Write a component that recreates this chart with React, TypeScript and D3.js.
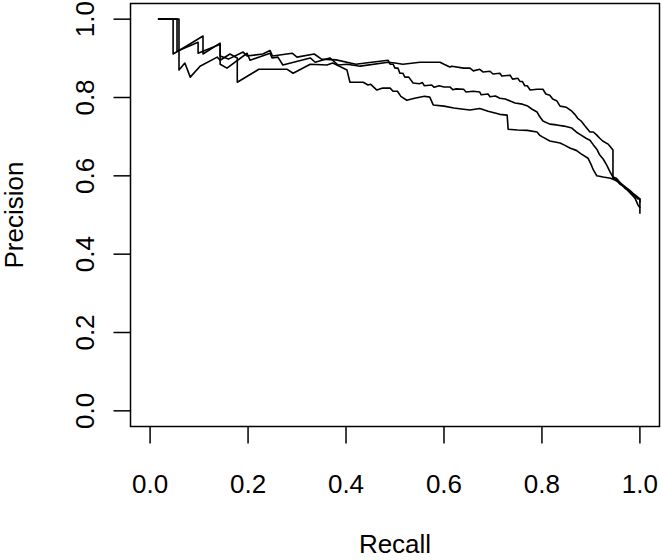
import * as d3 from 'd3';

// three precision/recall curves, [recall, precision]
const curveA: [number, number][] = [
  [0.016, 1.0], [0.047, 1.0], [0.047, 0.911], [0.078, 0.934], [0.108, 0.957], [0.108, 0.911],
  [0.143, 0.939], [0.143, 0.885], [0.157, 0.875], [0.198, 0.913], [0.204, 0.895], [0.245, 0.913],
  [0.249, 0.901], [0.261, 0.903], [0.271, 0.883], [0.327, 0.901], [0.337, 0.89], [0.367, 0.901],
  [0.384, 0.883], [0.402, 0.885], [0.429, 0.88], [0.486, 0.89], [0.5, 0.888], [0.516, 0.885],
  [0.551, 0.89], [0.592, 0.89], [0.6, 0.885], [0.612, 0.878], [0.616, 0.88], [0.64, 0.875],
  [0.653, 0.875], [0.66, 0.868], [0.673, 0.872], [0.68, 0.865], [0.694, 0.867], [0.7, 0.86],
  [0.714, 0.862], [0.718, 0.855], [0.735, 0.857], [0.74, 0.847], [0.751, 0.849], [0.755, 0.841],
  [0.76, 0.841], [0.765, 0.83], [0.77, 0.83], [0.776, 0.819], [0.79, 0.821], [0.802, 0.821],
  [0.808, 0.809], [0.816, 0.806], [0.822, 0.796], [0.83, 0.792], [0.837, 0.778], [0.85, 0.775],
  [0.861, 0.765], [0.867, 0.757], [0.873, 0.747], [0.88, 0.74], [0.888, 0.727], [0.898, 0.712],
  [0.905, 0.712], [0.912, 0.704], [0.918, 0.696], [0.924, 0.689], [0.935, 0.681], [0.945, 0.666],
  [0.945, 0.594], [0.952, 0.59], [0.959, 0.579], [0.965, 0.575], [0.969, 0.569], [0.975, 0.564],
  [0.98, 0.559], [0.985, 0.553], [0.99, 0.548], [0.996, 0.541], [1.0, 0.541], [1.0, 0.518],
];

const curveB: [number, number][] = [
  [0.016, 1.0], [0.055, 1.0], [0.055, 0.918], [0.098, 0.941], [0.098, 0.913], [0.143, 0.936],
  [0.143, 0.906], [0.16, 0.898], [0.19, 0.916], [0.198, 0.906], [0.23, 0.911], [0.245, 0.92],
  [0.25, 0.906], [0.29, 0.913], [0.3, 0.903], [0.335, 0.911], [0.35, 0.898], [0.38, 0.896],
  [0.42, 0.885], [0.44, 0.888], [0.486, 0.895], [0.49, 0.885], [0.496, 0.885], [0.5, 0.875],
  [0.506, 0.875], [0.51, 0.862], [0.516, 0.862], [0.52, 0.852], [0.528, 0.852], [0.537, 0.837],
  [0.55, 0.835], [0.556, 0.838], [0.56, 0.83], [0.575, 0.832], [0.58, 0.826], [0.59, 0.83],
  [0.6, 0.827], [0.612, 0.827], [0.618, 0.82], [0.625, 0.822], [0.64, 0.821], [0.645, 0.814],
  [0.66, 0.816], [0.673, 0.814], [0.676, 0.807], [0.69, 0.809], [0.694, 0.802], [0.705, 0.804],
  [0.714, 0.798], [0.725, 0.796], [0.735, 0.791], [0.745, 0.786], [0.76, 0.783], [0.771, 0.778],
  [0.78, 0.77], [0.79, 0.763], [0.795, 0.752], [0.802, 0.74], [0.816, 0.732], [0.83, 0.73],
  [0.845, 0.727], [0.861, 0.722], [0.87, 0.712], [0.88, 0.704], [0.89, 0.696], [0.898, 0.691],
  [0.905, 0.679], [0.912, 0.668], [0.918, 0.653], [0.925, 0.643], [0.932, 0.628], [0.939, 0.61],
  [0.945, 0.597], [0.952, 0.594], [0.96, 0.582], [0.97, 0.572], [0.98, 0.562], [0.988, 0.553],
  [0.995, 0.546], [1.0, 0.541], [1.0, 0.531],
];

const curveC: [number, number][] = [
  [0.016, 1.0], [0.059, 1.0], [0.059, 0.87], [0.071, 0.888], [0.082, 0.852], [0.102, 0.88],
  [0.137, 0.903], [0.143, 0.895], [0.163, 0.911], [0.178, 0.901], [0.178, 0.839], [0.222, 0.872],
  [0.25, 0.872], [0.28, 0.872], [0.292, 0.862], [0.327, 0.885], [0.361, 0.883], [0.373, 0.888],
  [0.402, 0.87], [0.408, 0.839], [0.435, 0.839], [0.445, 0.832], [0.45, 0.834], [0.463, 0.819],
  [0.475, 0.824], [0.49, 0.824], [0.496, 0.816], [0.505, 0.816], [0.512, 0.803], [0.524, 0.793],
  [0.54, 0.798], [0.56, 0.803], [0.571, 0.801], [0.578, 0.781], [0.6, 0.778], [0.62, 0.773],
  [0.64, 0.77], [0.653, 0.768], [0.673, 0.772], [0.69, 0.765], [0.714, 0.757], [0.729, 0.755],
  [0.731, 0.719], [0.75, 0.717], [0.77, 0.716], [0.79, 0.712], [0.795, 0.704], [0.8, 0.7],
  [0.816, 0.689], [0.837, 0.684], [0.845, 0.679], [0.857, 0.671], [0.87, 0.665], [0.88, 0.656],
  [0.894, 0.645], [0.9, 0.63], [0.905, 0.615], [0.912, 0.6], [0.925, 0.597], [0.94, 0.594],
  [0.949, 0.589], [0.955, 0.585], [0.962, 0.577], [0.97, 0.569], [0.98, 0.556], [0.99, 0.543],
  [0.996, 0.526], [1.0, 0.518], [1.0, 0.503],
];

const curves = [curveA, curveB, curveC];

const xTicks = [0, 0.2, 0.4, 0.6, 0.8, 1.0];
const yTicks = [0, 0.2, 0.4, 0.6, 0.8, 1.0];

const font = '"Liberation Sans", Arial, Helvetica, sans-serif';

export default function App() {
  const width = 661;
  const height = 560;
  const box = { left: 130.5, right: 659.5, top: 3.5, bottom: 426.5 };

  // R style: 4% padding around [0, 1]
  const x = d3.scaleLinear().domain([-0.04, 1.04]).range([box.left, box.right]);
  const y = d3.scaleLinear().domain([-0.04, 1.04]).range([box.bottom, box.top]);
  const line = d3.line<[number, number]>().x(d => x(d[0])).y(d => y(d[1]));

  const tick = 17;

  return (
    <svg width={width} height={height} style={{ position: 'absolute', left: 0, top: 0, background: '#fff' }}>
      <g fill="none" stroke="#000" strokeWidth={1.6} strokeLinejoin="round">
        {curves.map((c, i) => <path key={i} d={line(c) || ''} />)}
      </g>

      <rect x={box.left} y={box.top} width={box.right - box.left} height={box.bottom - box.top}
        fill="none" stroke="#000" strokeWidth={1.5} />

      {/* x axis */}
      <g stroke="#000" strokeWidth={1.5}>
        {xTicks.map(t => <line key={t} x1={x(t)} x2={x(t)} y1={box.bottom} y2={box.bottom + tick} />)}
      </g>
      <g fontFamily={font} fontSize={26} textAnchor="middle" fill="#000">
        {xTicks.map(t => <text key={t} x={x(t)} y={493}>{t.toFixed(1)}</text>)}
        <text x={(box.left + box.right) / 2} y={553}>Recall</text>
      </g>

      {/* y axis */}
      <g stroke="#000" strokeWidth={1.5}>
        {yTicks.map(t => <line key={t} x1={box.left - tick} x2={box.left} y1={y(t)} y2={y(t)} />)}
      </g>
      <g fontFamily={font} fontSize={26} textAnchor="middle" fill="#000">
        {yTicks.map(t => (
          <text key={t} transform={`translate(94,${y(t)}) rotate(-90)`}>{t.toFixed(1)}</text>
        ))}
        <text transform={`translate(23,${(box.top + box.bottom) / 2}) rotate(-90)`}>Precision</text>
      </g>
    </svg>
  );
}
